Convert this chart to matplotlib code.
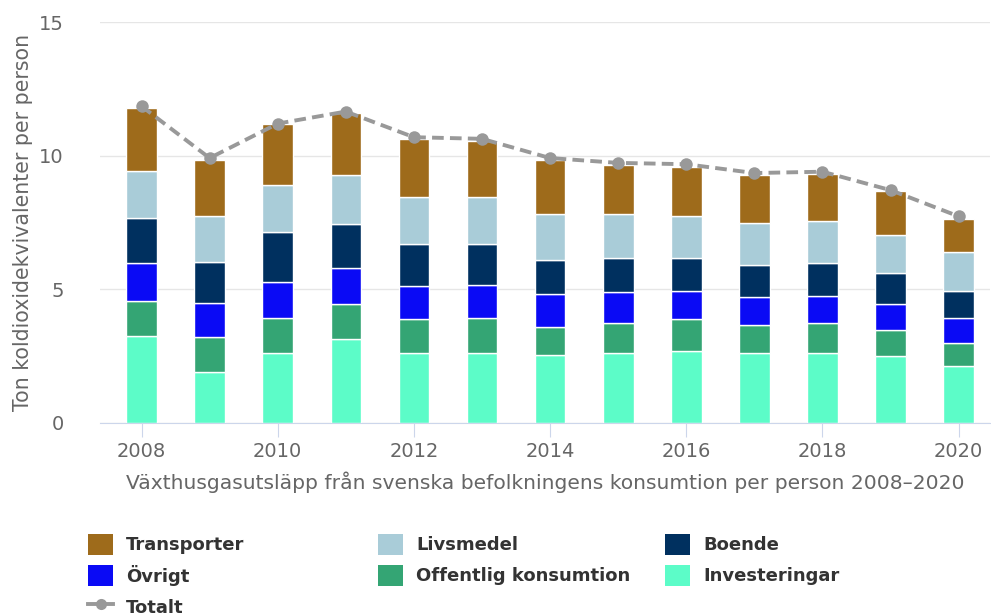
import matplotlib
matplotlib.use('Agg')
import matplotlib.pyplot as plt
from matplotlib.patches import Patch
from matplotlib.lines import Line2D

plt.rcParams['font.family'] = ['DejaVu Sans']

years = [2008, 2009, 2010, 2011, 2012, 2013, 2014, 2015, 2016, 2017, 2018, 2019, 2020]

# stacked from the bottom up
investeringar = [3.25, 1.90, 2.63, 3.15, 2.63, 2.63, 2.53, 2.63, 2.71, 2.63, 2.63, 2.50, 2.13]
offentlig = [1.30, 1.30, 1.30, 1.29, 1.25, 1.30, 1.07, 1.11, 1.17, 1.05, 1.11, 0.98, 0.87]
ovrigt = [1.43, 1.29, 1.35, 1.34, 1.26, 1.22, 1.24, 1.17, 1.07, 1.02, 1.02, 0.96, 0.93]
boende = [1.67, 1.54, 1.85, 1.68, 1.55, 1.54, 1.26, 1.25, 1.24, 1.21, 1.23, 1.17, 1.02]
livsmedel = [1.76, 1.72, 1.77, 1.82, 1.77, 1.77, 1.71, 1.65, 1.56, 1.57, 1.56, 1.43, 1.45]
transporter = [2.37, 2.09, 2.29, 2.31, 2.17, 2.10, 2.03, 1.84, 1.84, 1.80, 1.76, 1.65, 1.23]
totalt = [11.85, 9.91, 11.20, 11.65, 10.69, 10.63, 9.91, 9.73, 9.68, 9.35, 9.40, 8.71, 7.73]

series = [
    ('Investeringar', investeringar, '#5cfcc8'),
    ('Offentlig konsumtion', offentlig, '#34a574'),
    ('Övrigt', ovrigt, '#0a0af5'),
    ('Boende', boende, '#00305f'),
    ('Livsmedel', livsmedel, '#a9ccd8'),
    ('Transporter', transporter, '#9e6b1b'),
]
colors = {name: c for name, _, c in series}

fig = plt.figure(figsize=(9.91, 6.15), dpi=100)
ax = fig.add_axes([100 / 991, 1 - 423 / 615, 890 / 991, (423 - 22) / 615])

bottom = [0.0] * len(years)
for name, vals, c in series:
    ax.bar(years, vals, width=0.45, bottom=bottom, color=c,
           edgecolor='white', linewidth=1, zorder=2)
    bottom = [b + v for b, v in zip(bottom, vals)]

ax.plot(years, totalt, color='#999999', linestyle=(0, (3, 1.6)), linewidth=2.8,
        marker='o', markersize=9, markeredgewidth=0, zorder=3)

ax.set_ylim(0, 15)
ax.set_xlim(2007.39, 2020.46)
ax.set_yticks([0, 5, 10, 15])
ax.set_xticks(range(2008, 2021, 2))
ax.grid(axis='y', color='#e6e6e6', linewidth=1, zorder=0)
for s in ['top', 'right', 'left']:
    ax.spines[s].set_visible(False)
ax.spines['bottom'].set_color('#ccd6eb')
ax.tick_params(axis='y', length=0, pad=26, labelsize=14, labelcolor='#666666')
ax.tick_params(axis='x', length=10, color='#ccd6eb', pad=4, labelsize=14,
               labelcolor='#666666')

ax.set_ylabel('Ton koldioxidekvivalenter per person', fontsize=14.8,
              color='#666666', labelpad=4)
ax.set_xlabel('Växthusgasutsläpp från svenska befolkningens konsumtion per person 2008–2020',
              fontsize=14.6, color='#666666', labelpad=7)

def sq(name):
    return Patch(facecolor=colors[name], edgecolor='none')

tot_handle = Line2D([], [], color='#999999', linewidth=2.8, marker='o',
                    markersize=8, markeredgewidth=0)

columns = [
    (88, [sq('Transporter'), sq('Övrigt'), tot_handle],
     ['Transporter', 'Övrigt', 'Totalt']),
    (378, [sq('Livsmedel'), sq('Offentlig konsumtion')],
     ['Livsmedel', 'Offentlig konsumtion']),
    (665, [sq('Boende'), sq('Investeringar')],
     ['Boende', 'Investeringar']),
]
for x0, hs, ls in columns:
    leg = fig.legend(hs, ls, loc='upper left',
                     bbox_to_anchor=(x0 / 991, 1 - 534 / 615),
                     frameon=False, borderpad=0, borderaxespad=0,
                     handlelength=1.4, handleheight=1.4, handletextpad=0.7,
                     labelspacing=0.55,
                     prop={'size': 13, 'weight': 'bold'})
    for t in leg.get_texts():
        t.set_color('#333333')

fig.savefig('out.png', dpi=100, facecolor='white')
